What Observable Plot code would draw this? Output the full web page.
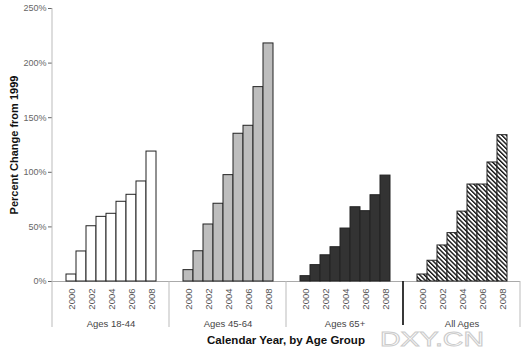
<!DOCTYPE html>
<html><head><meta charset="utf-8">
<script src="https://cdn.jsdelivr.net/npm/d3@7"></script>
<script src="https://cdn.jsdelivr.net/npm/@observablehq/plot@0.6"></script>
<style>
body{margin:0;background:#fff;}
#chart svg{font-family:"Liberation Sans",Arial,sans-serif;background:#fff;}
</style></head><body><div id="chart"></div>
<script>
const groups = ["Ages 18-44", "Ages 45-64", "Ages 65+", "All Ages"];
const years = ["2000","2001","2002","2003","2004","2005","2006","2007","2008"];
const yearTicks = ["2000","2002","2004","2006","2008"];
const ages18_44 = [6.4, 27.5, 50.6, 59.2, 62, 73, 79.4, 91.6, 119];
const ages45_64 = [10.4, 27.7, 52.2, 71.2, 97.4, 135.3, 142.6, 178, 218];
const ages65plus = [4.9, 15, 24, 31.4, 48.5, 68, 64.4, 79, 97];
const allAges = [6.4, 19, 33, 44.3, 64, 88.8, 88.8, 109, 134];
const yTicks = [0, 50, 100, 150, 200, 250];
const fills = ["#ffffff", "#bdbdbd", "#333333", "url(#hatch)"];

const series = [ages18_44, ages45_64, ages65plus, allAges];
const data = [];
groups.forEach((g, i) => years.forEach((yr, j) => data.push({group: g, year: yr, value: series[i][j]})));

const chart = Plot.plot({
  width: 523, height: 352,
  marginTop: 8, marginBottom: 71, marginLeft: 51, marginRight: 3,
  fx: {domain: groups, padding: 0, axis: null, label: null},
  x: {domain: years, paddingInner: 0, paddingOuter: 1},
  y: {domain: [0, 250]},
  color: {domain: groups, range: fills},
  marks: [
    Plot.ruleY([0], {stroke: "#aaa"}),
    Plot.barY(data, {fx: "group", x: "year", y: "value", fill: "group", stroke: "#222", strokeWidth: 1}),
    Plot.axisY({ticks: yTicks, tickFormat: d => d + "%", tickSize: 4, tickPadding: 2, fontSize: 9, color: "#666",
      label: "Percent Change from 1999", labelAnchor: "center", labelOffset: 42, labelArrow: "none"}),
    Plot.axisX({ticks: yearTicks, tickRotate: -90, tickSize: 0, tickPadding: 7, label: null, fontSize: 9.5, color: "#555"}),
    Plot.text(groups, {fx: d => d, text: d => d, frameAnchor: "bottom", lineAnchor: "bottom", dy: 45, fontSize: 9.5, fill: "#444"})
  ]
});
document.getElementById("chart").appendChild(chart);

const svg = d3.select(chart);
const defs = svg.insert("defs", ":first-child");
const pat = defs.append("pattern").attr("id", "hatch").attr("patternUnits", "userSpaceOnUse")
  .attr("width", 3.2).attr("height", 3.2).attr("patternTransform", "rotate(-45)");
pat.append("rect").attr("width", 3.2).attr("height", 3.2).attr("fill", "#fff");
pat.append("rect").attr("width", 1.4).attr("height", 3.2).attr("fill", "#111");

svg.selectAll('[aria-label="y-axis label"] text, [aria-label="y-axis label"]')
  .style("font-weight", "bold").style("font-size", "11px").attr("fill", "#111");

const fx = chart.scale("fx"), y = chart.scale("y");
const edges = groups.map(g => fx.apply(g)).concat([fx.apply(groups[groups.length - 1]) + fx.bandwidth]);
const y0 = y.apply(0), sepBottom = y0 + 46;
const g = svg.append("g");
g.append("line").attr("x1", edges[0]).attr("x2", edges[0]).attr("y1", y.apply(250)).attr("y2", sepBottom)
  .attr("stroke", "#bbb");
edges.slice(1).forEach((x, i) => {
  const dark = i === 2;
  g.append("line").attr("x1", x).attr("x2", x).attr("y1", y0).attr("y2", dark ? sepBottom - 2 : sepBottom)
    .attr("stroke", dark ? "#222" : "#bbb").attr("stroke-width", dark ? 1.8 : 1);
});
svg.append("text").text("Calendar Year, by Age Group")
  .attr("x", (edges[0] + edges[edges.length - 1]) / 2).attr("y", 344)
  .attr("text-anchor", "middle").attr("font-weight", "bold").attr("font-size", 11.5).attr("fill", "#111");
svg.append("text").text("DXY.CN").attr("x", 380).attr("y", 346).attr("text-anchor", "start")
  .attr("font-size", 20).attr("fill", "#fff").attr("stroke", "#ccc").attr("stroke-width", 0.9)
  .attr("textLength", 104).attr("lengthAdjust", "spacingAndGlyphs");
</script></body></html>
